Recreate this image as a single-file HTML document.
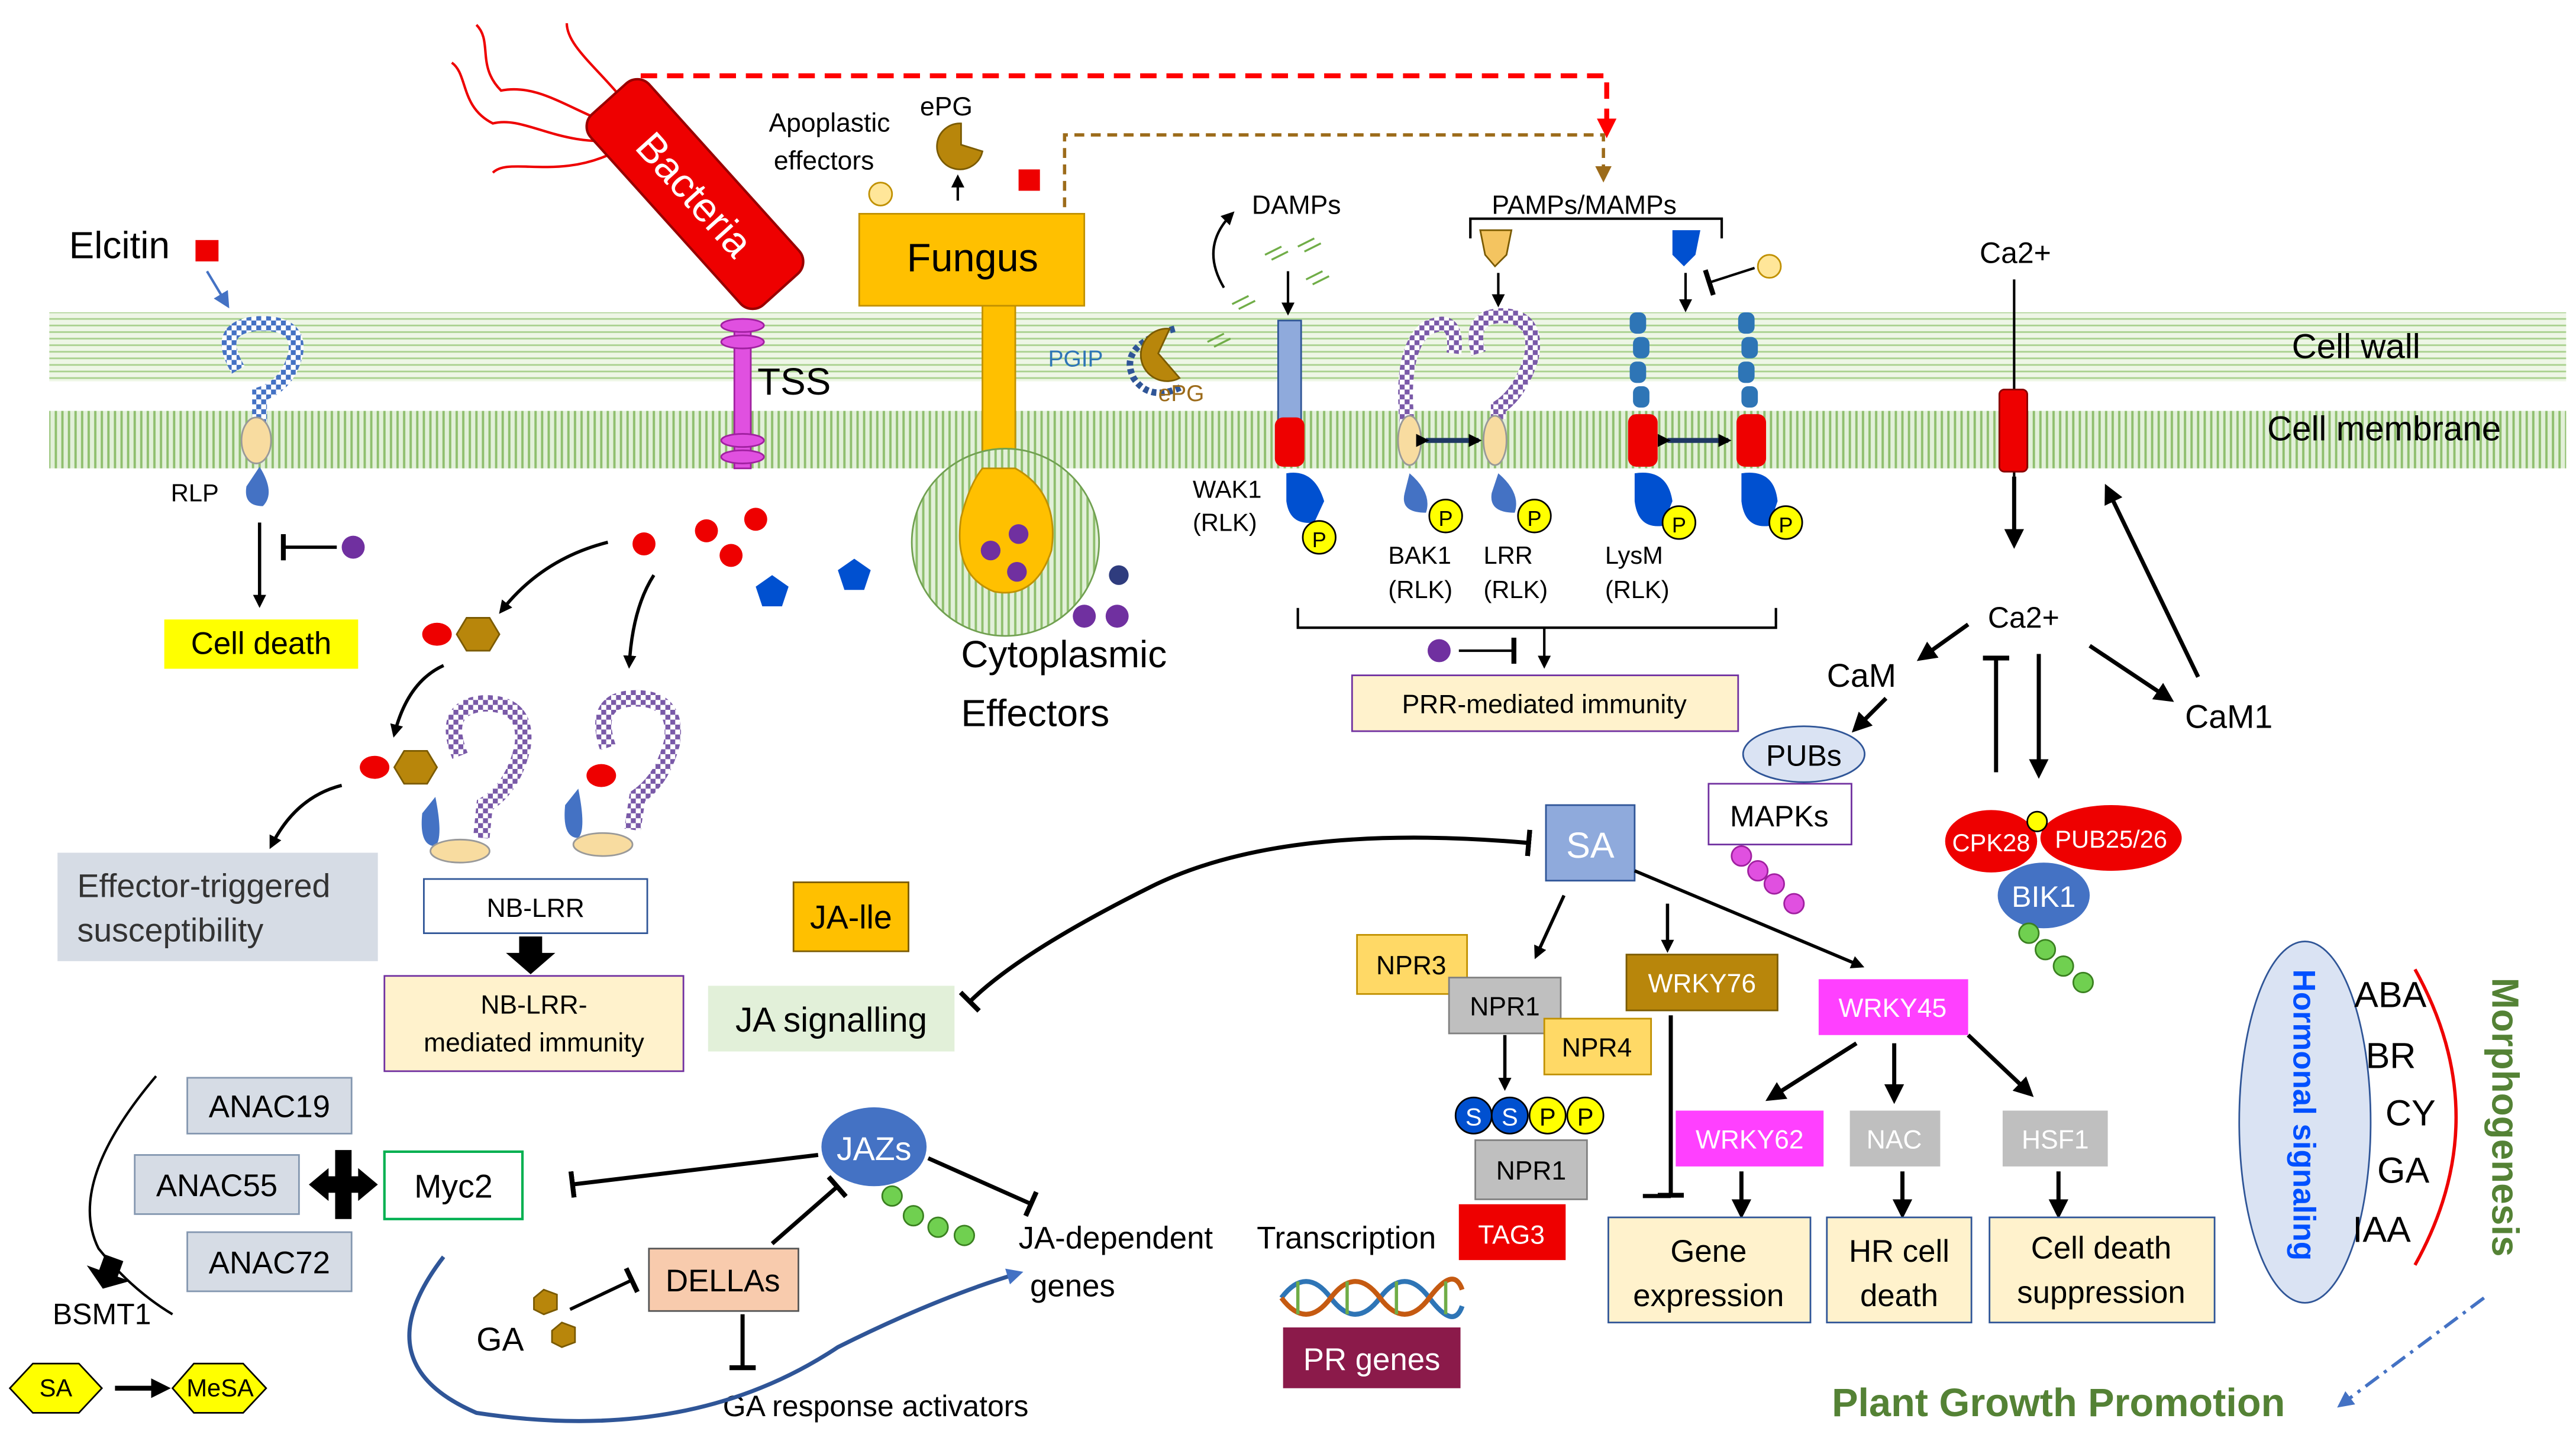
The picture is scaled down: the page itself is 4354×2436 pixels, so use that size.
<!DOCTYPE html>
<html><head><meta charset="utf-8"><style>
html,body{margin:0;padding:0;background:#fff}
svg{display:block}
text{font-family:"Liberation Sans",sans-serif}
</style></head><body>
<svg width="4354" height="2436" viewBox="0 0 1568 877" xmlns="http://www.w3.org/2000/svg">
<defs>
<pattern id="hw" width="6" height="4" patternUnits="userSpaceOnUse"><rect width="6" height="4" fill="#eef6e6"/><line x1="0" y1="2" x2="6" y2="2" stroke="#a9d18e" stroke-width="1"/></pattern>
<pattern id="vm" width="4" height="6" patternUnits="userSpaceOnUse"><rect width="4" height="6" fill="#e2f0d9"/><line x1="2" y1="0" x2="2" y2="6" stroke="#8fbf6e" stroke-width="1.4"/></pattern>
<pattern id="chk" width="6" height="6" patternUnits="userSpaceOnUse"><rect width="6" height="6" fill="#fff"/><rect width="3" height="3" fill="#7a5aa8"/><rect x="3" y="3" width="3" height="3" fill="#7a5aa8"/></pattern>
<pattern id="chkb" width="6" height="6" patternUnits="userSpaceOnUse"><rect width="6" height="6" fill="#fff"/><rect width="3" height="3" fill="#4472c4"/><rect x="3" y="3" width="3" height="3" fill="#4472c4"/></pattern>
<marker id="a" markerWidth="8" markerHeight="8" refX="6" refY="4" orient="auto" markerUnits="userSpaceOnUse"><path d="M0,0 L8,4 L0,8 z" fill="#000"/></marker>
<marker id="ab" markerWidth="10" markerHeight="10" refX="7" refY="5" orient="auto" markerUnits="userSpaceOnUse"><path d="M0,0 L10,5 L0,10 z" fill="#4472c4"/></marker>
<marker id="ar" markerWidth="12" markerHeight="12" refX="8" refY="6" orient="auto" markerUnits="userSpaceOnUse"><path d="M0,0 L12,6 L0,12 z" fill="#f00"/></marker>
<marker id="abr" markerWidth="10" markerHeight="10" refX="7" refY="5" orient="auto" markerUnits="userSpaceOnUse"><path d="M0,0 L10,5 L0,10 z" fill="#9c6b1a"/></marker>
<marker id="t" markerWidth="4" markerHeight="16" refX="2" refY="8" orient="auto" markerUnits="userSpaceOnUse"><rect width="3" height="16" fill="#000"/></marker>
<marker id="aw" markerWidth="12" markerHeight="12" refX="8" refY="6" orient="auto" markerUnits="userSpaceOnUse"><path d="M0,0 L12,6 L0,12 z" fill="#000"/></marker>
</defs>

<!-- membranes -->
<rect x="30" y="190" width="1532" height="42" fill="url(#hw)"/>
<rect x="30" y="250" width="1532" height="35" fill="url(#vm)"/>
<text x="1395" y="218" font-size="21">Cell wall</text>
<text x="1380" y="268" font-size="21">Cell membrane</text>

<!-- dashed lines -->
<polyline points="390,78 390,46 978,46 978,80" fill="none" stroke="#f00" stroke-width="3" stroke-dasharray="10,6" marker-end="url(#ar)"/>
<polyline points="648,126 648,82 976,82 976,108" fill="none" stroke="#9c6b1a" stroke-width="2" stroke-dasharray="6,4" marker-end="url(#abr)"/>

<!-- bacteria -->
<g stroke="#e00" stroke-width="1.5" fill="none">
<path d="M385,80 C350,70 330,50 305,55 C290,40 300,25 290,15"/>
<path d="M380,85 C340,90 320,70 300,75 C280,65 285,45 275,38"/>
<path d="M375,92 C340,110 310,95 300,105"/>
<path d="M390,75 C370,45 345,30 345,14"/>
</g>
<g transform="translate(423,118) rotate(48)">
<rect x="-78" y="-24" width="156" height="48" rx="10" fill="#e00" stroke="#900" stroke-width="1.5"/>
<text x="0" y="9" font-size="25" fill="#fff" text-anchor="middle">Bacteria</text>
</g>
<!-- TSS -->
<rect x="447" y="195" width="10" height="90" fill="#e050e0" stroke="#a020a0"/>
<ellipse cx="452" cy="198" rx="13" ry="4" fill="#e050e0" stroke="#a020a0"/>
<ellipse cx="452" cy="208" rx="13" ry="4" fill="#e050e0" stroke="#a020a0"/>
<ellipse cx="452" cy="268" rx="13" ry="4" fill="#e050e0" stroke="#a020a0"/>
<ellipse cx="452" cy="278" rx="13" ry="4" fill="#e050e0" stroke="#a020a0"/>
<text x="461" y="240" font-size="23">TSS</text>

<!-- Fungus -->
<rect x="598" y="185" width="20" height="110" fill="#ffc000" stroke="#c09000"/>
<circle cx="612" cy="330" r="57" fill="url(#vm)" stroke="#70a050"/>
<path d="M598,285 L618,285 Q645,300 640,335 Q630,365 605,360 Q580,350 585,315 Q590,295 598,285z" fill="#ffc000" stroke="#c09000"/>
<circle cx="603" cy="335" r="6" fill="#7030a0"/><circle cx="620" cy="325" r="6" fill="#7030a0"/><circle cx="619" cy="348" r="6" fill="#7030a0"/>
<rect x="523" y="130" width="137" height="56" fill="#ffc000" stroke="#c09000"/>
<text x="592" y="165" font-size="24" text-anchor="middle">Fungus</text>
<text x="468" y="80" font-size="16">Apoplastic</text>
<text x="471" y="103" font-size="16">effectors</text>
<text x="560" y="70" font-size="16">ePG</text>
<path d="M585,75 A14,14 0 1,0 598,92 L585,88 z" fill="#b8860b" stroke="#7a5a00"/>
<line x1="583" y1="122" x2="583" y2="108" stroke="#000" stroke-width="1.5" marker-end="url(#a)"/>
<circle cx="536" cy="118" r="7" fill="#ffe699" stroke="#c09000"/>
<rect x="620" y="103" width="13" height="13" fill="#e00"/>
<circle cx="681" cy="350" r="6" fill="#2f3c7e"/><circle cx="660" cy="375" r="7" fill="#7030a0"/><circle cx="680" cy="375" r="7" fill="#7030a0"/>
<text x="585" y="406" font-size="23">Cytoplasmic</text>
<text x="585" y="442" font-size="23">Effectors</text>

<!-- PGIP -->
<path d="M715,200 Q680,210 690,230 Q700,245 720,235" fill="none" stroke="#2f5597" stroke-width="4" stroke-dasharray="3,2"/>
<path d="M712,200 A16,16 0 1,0 718,230 L705,215 z" fill="#b8860b" stroke="#7a5a00"/>
<text x="638" y="223" font-size="14" fill="#2e75b6">PGIP</text>
<text x="705" y="244" font-size="14" fill="#9c6b1a">ePG</text>
<g fill="none" stroke="#70ad47" stroke-width="1.2">
<path d="M735,208 l10,-5 m-6,8 l10,-5"/><path d="M750,185 l10,-5 m-6,8 l10,-5"/><path d="M770,155 l10,-5 m-6,8 l10,-5"/><path d="M790,150 l10,-5 m-6,8 l10,-5"/><path d="M795,170 l10,-5 m-6,8 l10,-5"/>
</g>
<path d="M745,175 Q730,150 750,130" fill="none" stroke="#000" stroke-width="1.5" marker-end="url(#a)"/>
<text x="762" y="130" font-size="16">DAMPs</text>

<!-- Elcitin / RLP -->
<text x="42" y="157" font-size="23">Elcitin</text>
<rect x="119" y="146" width="14" height="13" fill="#e00"/>
<line x1="126" y1="165" x2="138" y2="185" stroke="#4472c4" stroke-width="1.5" marker-end="url(#ab)"/>
<path d="M145,225 Q130,200 155,197 Q183,195 180,215 Q175,235 158,240 L158,258" fill="none" stroke="url(#chkb)" stroke-width="9"/>
<ellipse cx="156" cy="268" rx="9" ry="14" fill="#f8dca0" stroke="#999"/>
<path d="M158,284 Q168,300 160,308 Q148,308 150,296z" fill="#4472c4"/>
<text x="104" y="305" font-size="15">RLP</text>
<line x1="158" y1="318" x2="158" y2="368" stroke="#000" stroke-width="2" marker-end="url(#a)"/>
<line x1="205" y1="333" x2="172" y2="333" stroke="#000" stroke-width="2" marker-end="url(#t)"/>
<circle cx="215" cy="333" r="7" fill="#7030a0"/>
<rect x="100" y="377" width="118" height="30" fill="#ffff00"/>
<text x="159" y="398" font-size="19" text-anchor="middle">Cell death</text>

<!-- effectors dots -->
<g fill="#e00"><circle cx="392" cy="331" r="7"/><circle cx="430" cy="323" r="7"/><circle cx="460" cy="316" r="7"/><circle cx="445" cy="338" r="7"/></g>
<polygon points="470,350 480,357 476,369 464,369 460,357" fill="#0050d0"/>
<polygon points="520,340 530,347 526,359 514,359 510,347" fill="#0050d0"/>
<path d="M370,330 Q330,340 305,372" fill="none" stroke="#000" stroke-width="2" marker-end="url(#a)"/>
<path d="M398,350 Q385,370 383,405" fill="none" stroke="#000" stroke-width="2" marker-end="url(#a)"/>
<ellipse cx="266" cy="386" rx="9" ry="7" fill="#e00"/>
<polygon points="278,386 284,376 298,376 304,386 298,396 284,396" fill="#b8860b" stroke="#7a5a00"/>
<path d="M270,405 Q248,415 240,447" fill="none" stroke="#000" stroke-width="2" marker-end="url(#a)"/>
<ellipse cx="228" cy="467" rx="9" ry="7" fill="#e00"/>
<polygon points="240,467 246,457 260,457 266,467 260,477 246,477" fill="#b8860b" stroke="#7a5a00"/>
<path d="M208,478 Q180,485 165,515" fill="none" stroke="#000" stroke-width="2" marker-end="url(#a)"/>
<rect x="35" y="519" width="195" height="66" fill="#d6dce5"/>
<text x="47" y="546" font-size="20" fill="#333">Effector-triggered</text>
<text x="47" y="573" font-size="20" fill="#333">susceptibility</text>

<!-- NB-LRR -->
<path d="M280,460 Q268,430 295,428 Q322,428 318,455 Q312,480 295,490 L293,510" fill="none" stroke="url(#chk)" stroke-width="10"/>
<path d="M265,485 Q270,510 265,515 Q255,515 257,495z" fill="#4472c4"/>
<ellipse cx="280" cy="518" rx="18" ry="7" fill="#f8dca0" stroke="#999"/>
<path d="M370,455 Q360,425 387,425 Q413,425 409,452 Q403,475 388,485 L385,505" fill="none" stroke="url(#chk)" stroke-width="10"/>
<ellipse cx="366" cy="472" rx="9" ry="7" fill="#e00"/>
<path d="M352,480 Q357,505 352,510 Q342,510 344,490z" fill="#4472c4"/>
<ellipse cx="367" cy="514" rx="18" ry="7" fill="#f8dca0" stroke="#999"/>
<rect x="258" y="535" width="136" height="33" fill="#fff" stroke="#2f5597"/>
<text x="326" y="558" font-size="16" text-anchor="middle">NB-LRR</text>
<polygon points="316,570 330,570 330,580 338,580 323,593 308,580 316,580" fill="#000"/>
<rect x="234" y="594" width="182" height="58" fill="#fff2cc" stroke="#7030a0"/>
<text x="325" y="617" font-size="16" text-anchor="middle">NB-LRR-</text>
<text x="325" y="640" font-size="16" text-anchor="middle">mediated immunity</text>

<!-- WAK1 -->
<rect x="778" y="195" width="14" height="62" fill="#8faadc" stroke="#2f5597"/>
<rect x="776" y="254" width="18" height="30" rx="5" fill="#e00"/>
<path d="M783,288 Q800,285 806,305 L800,318 Q785,320 783,305z" fill="#0050d0"/>
<circle cx="803" cy="327" r="10" fill="#ffff00" stroke="#000"/><text x="803" y="333" font-size="13" text-anchor="middle">P</text>
<text x="726" y="303" font-size="15">WAK1</text><text x="726" y="323" font-size="15">(RLK)</text>
<line x1="784" y1="165" x2="784" y2="190" stroke="#000" stroke-width="1.5" marker-end="url(#a)"/>

<!-- PAMPs -->
<text x="908" y="130" font-size="16">PAMPs/MAMPs</text>
<polyline points="895,145 895,133 1048,133 1048,145" fill="none" stroke="#000" stroke-width="1.5"/>
<polygon points="901,140 920,140 917,155 910,162 904,155" fill="#f4c460" stroke="#7a5a00"/>
<polygon points="1018,140 1035,140 1032,155 1025,162 1018,155" fill="#0050d0"/>
<line x1="912" y1="166" x2="912" y2="185" stroke="#000" stroke-width="1.5" marker-end="url(#a)"/>
<line x1="1026" y1="166" x2="1026" y2="188" stroke="#000" stroke-width="1.5" marker-end="url(#a)"/>
<line x1="1068" y1="163" x2="1040" y2="172" stroke="#000" stroke-width="1.5" marker-end="url(#t)"/>
<circle cx="1077" cy="162" r="7" fill="#ffe699" stroke="#c09000"/>

<!-- BAK1/LRR -->
<path d="M858,270 Q850,215 868,200 Q888,190 885,215" fill="none" stroke="url(#chk)" stroke-width="9"/>
<ellipse cx="858" cy="268" rx="7" ry="15" fill="#f8dca0" stroke="#999"/>
<path d="M858,288 Q872,300 868,312 Q852,312 855,300z" fill="#4472c4"/>
<circle cx="880" cy="314" r="10" fill="#ffff00" stroke="#000"/><text x="880" y="320" font-size="13" text-anchor="middle">P</text>
<path d="M900,215 Q893,192 915,192 Q937,193 932,218 Q925,240 912,248 L912,255" fill="none" stroke="url(#chk)" stroke-width="9"/>
<ellipse cx="910" cy="268" rx="7" ry="15" fill="#f8dca0" stroke="#999"/>
<path d="M912,288 Q926,300 922,312 Q906,312 908,300z" fill="#4472c4"/>
<circle cx="934" cy="314" r="10" fill="#ffff00" stroke="#000"/><text x="934" y="320" font-size="13" text-anchor="middle">P</text>
<line x1="868" y1="268" x2="900" y2="268" stroke="#1f3864" stroke-width="3" marker-end="url(#a)" marker-start="url(#a)"/>
<text x="845" y="343" font-size="15">BAK1</text><text x="845" y="364" font-size="15">(RLK)</text>
<text x="903" y="343" font-size="15">LRR</text><text x="903" y="364" font-size="15">(RLK)</text>

<!-- LysM -->
<g fill="#2e75b6">
<rect x="992" y="190" width="10" height="13" rx="4"/><rect x="994" y="205" width="10" height="13" rx="4"/><rect x="992" y="220" width="10" height="13" rx="4"/><rect x="994" y="235" width="10" height="13" rx="4"/>
<rect x="1058" y="190" width="10" height="13" rx="4"/><rect x="1060" y="205" width="10" height="13" rx="4"/><rect x="1058" y="220" width="10" height="13" rx="4"/><rect x="1060" y="235" width="10" height="13" rx="4"/>
</g>
<rect x="991" y="252" width="18" height="32" rx="5" fill="#e00"/>
<rect x="1057" y="252" width="18" height="32" rx="5" fill="#e00"/>
<path d="M995,288 Q1015,285 1018,305 L1012,320 Q997,322 995,305z" fill="#0050d0"/>
<path d="M1060,288 Q1080,285 1082,305 L1077,320 Q1062,322 1060,305z" fill="#0050d0"/>
<circle cx="1022" cy="318" r="10" fill="#ffff00" stroke="#000"/><text x="1022" y="324" font-size="13" text-anchor="middle">P</text>
<circle cx="1087" cy="318" r="10" fill="#ffff00" stroke="#000"/><text x="1087" y="324" font-size="13" text-anchor="middle">P</text>
<line x1="1015" y1="268" x2="1052" y2="268" stroke="#1f3864" stroke-width="3" marker-end="url(#a)" marker-start="url(#a)"/>
<text x="977" y="343" font-size="15">LysM</text><text x="977" y="364" font-size="15">(RLK)</text>

<polyline points="790,370 790,382 1081,382 1081,370" fill="none" stroke="#000" stroke-width="1.5"/>
<line x1="940" y1="382" x2="940" y2="405" stroke="#000" stroke-width="1.5" marker-end="url(#a)"/>
<circle cx="876" cy="396" r="7" fill="#7030a0"/>
<line x1="888" y1="396" x2="922" y2="396" stroke="#000" stroke-width="1.5" marker-end="url(#t)"/>
<rect x="823" y="411" width="235" height="34" fill="#fff2cc" stroke="#7030a0"/>
<text x="940" y="434" font-size="16" text-anchor="middle">PRR-mediated immunity</text>

<!-- Ca -->
<text x="1205" y="160" font-size="18">Ca2+</text>
<line x1="1226" y1="170" x2="1226" y2="290" stroke="#000" stroke-width="1.5"/>
<rect x="1217" y="237" width="17" height="50" rx="3" fill="#e00" stroke="#800"/>
<line x1="1226" y1="290" x2="1226" y2="330" stroke="#000" stroke-width="2.5" marker-end="url(#aw)"/>
<text x="1210" y="382" font-size="18">Ca2+</text>
<line x1="1198" y1="380" x2="1170" y2="400" stroke="#000" stroke-width="2.5" marker-end="url(#aw)"/>
<line x1="1272" y1="393" x2="1320" y2="425" stroke="#000" stroke-width="2.5" marker-end="url(#aw)"/>
<line x1="1338" y1="412" x2="1283" y2="298" stroke="#000" stroke-width="2.5" marker-end="url(#aw)"/>
<line x1="1215" y1="470" x2="1215" y2="400" stroke="#000" stroke-width="2.5" marker-end="url(#t)"/>
<line x1="1241" y1="398" x2="1241" y2="470" stroke="#000" stroke-width="2.5" marker-end="url(#aw)"/>
<text x="1112" y="418" font-size="20">CaM</text>
<text x="1330" y="443" font-size="20">CaM1</text>
<line x1="1148" y1="425" x2="1130" y2="443" stroke="#000" stroke-width="2.5" marker-end="url(#aw)"/>
<ellipse cx="1098" cy="459" rx="37" ry="17" fill="#dae3f3" stroke="#2f5597"/>
<text x="1098" y="466" font-size="18" text-anchor="middle">PUBs</text>
<rect x="1040" y="477" width="87" height="37" fill="#fff" stroke="#7030a0"/>
<text x="1083" y="503" font-size="18" text-anchor="middle">MAPKs</text>
<g fill="#e050e0" stroke="#a020a0"><circle cx="1060" cy="521" r="6"/><circle cx="1070" cy="530" r="6"/><circle cx="1080" cy="538" r="6"/><circle cx="1092" cy="550" r="6"/></g>
<ellipse cx="1212" cy="512" rx="28" ry="19" fill="#e00"/>
<text x="1212" y="518" font-size="15" fill="#fff" text-anchor="middle">CPK28</text>
<ellipse cx="1285" cy="510" rx="43" ry="20" fill="#e00"/>
<text x="1285" y="516" font-size="15" fill="#fff" text-anchor="middle">PUB25/26</text>
<circle cx="1240" cy="500" r="6" fill="#ffff00" stroke="#000"/>
<ellipse cx="1244" cy="545" rx="28" ry="20" fill="#4472c4"/>
<text x="1244" y="552" font-size="18" fill="#fff" text-anchor="middle">BIK1</text>
<g fill="#70d050" stroke="#3a8020"><circle cx="1235" cy="568" r="6"/><circle cx="1245" cy="578" r="6"/><circle cx="1256" cy="588" r="6"/><circle cx="1268" cy="598" r="6"/></g>

<!-- SA network -->
<rect x="941" y="490" width="54" height="46" fill="#8faadc" stroke="#2f5597"/>
<text x="968" y="522" font-size="22" fill="#fff" text-anchor="middle">SA</text>
<path d="M930,513 Q780,500 700,540 Q620,580 590,610" fill="none" stroke="#000" stroke-width="2.5" marker-start="url(#t)" marker-end="url(#t)"/>
<rect x="483" y="537" width="70" height="42" fill="#ffc000" stroke="#7a5a00"/>
<text x="518" y="565" font-size="20" text-anchor="middle">JA-lle</text>
<rect x="431" y="600" width="150" height="40" fill="#e2f0d9"/>
<text x="506" y="628" font-size="21" text-anchor="middle">JA signalling</text>
<line x1="952" y1="545" x2="935" y2="582" stroke="#000" stroke-width="2" marker-end="url(#a)"/>
<line x1="1015" y1="550" x2="1015" y2="578" stroke="#000" stroke-width="2" marker-end="url(#a)"/>
<line x1="995" y1="530" x2="1133" y2="588" stroke="#000" stroke-width="2" marker-end="url(#a)"/>
<rect x="826" y="569" width="67" height="36" fill="#ffd966" stroke="#c09000"/>
<text x="859" y="593" font-size="16" text-anchor="middle">NPR3</text>
<rect x="882" y="595" width="68" height="34" fill="#bfbfbf" stroke="#808080"/>
<text x="916" y="618" font-size="16" text-anchor="middle">NPR1</text>
<rect x="940" y="620" width="65" height="34" fill="#ffd966" stroke="#c09000"/>
<text x="972" y="643" font-size="16" text-anchor="middle">NPR4</text>
<line x1="916" y1="630" x2="916" y2="662" stroke="#000" stroke-width="2" marker-end="url(#a)"/>
<g font-size="15" text-anchor="middle">
<circle cx="897" cy="679" r="11" fill="#0050d0" stroke="#000"/><text x="897" y="685" fill="#fff">S</text>
<circle cx="919" cy="679" r="11" fill="#0050d0" stroke="#000"/><text x="919" y="685" fill="#fff">S</text>
<circle cx="942" cy="679" r="11" fill="#ffff00" stroke="#000"/><text x="942" y="685">P</text>
<circle cx="965" cy="679" r="11" fill="#ffff00" stroke="#000"/><text x="965" y="685">P</text>
</g>
<rect x="898" y="694" width="68" height="36" fill="#bfbfbf" stroke="#808080"/>
<text x="932" y="718" font-size="16" text-anchor="middle">NPR1</text>
<rect x="888" y="733" width="65" height="34" fill="#e00"/>
<text x="920" y="757" font-size="16" fill="#fff" text-anchor="middle">TAG3</text>
<text x="765" y="760" font-size="19">Transcription</text>
<g fill="none" stroke-width="3">
<path d="M780,790 Q795,770 810,790 Q825,810 840,790 Q855,770 870,790 Q885,810 890,795" stroke="#2e75b6"/>
<path d="M780,790 Q795,810 810,790 Q825,770 840,790 Q855,810 870,790 Q885,770 890,785" stroke="#c55a11"/>
</g>
<g stroke="#70ad47" stroke-width="2"><line x1="790" y1="780" x2="790" y2="800"/><line x1="820" y1="780" x2="820" y2="800"/><line x1="850" y1="780" x2="850" y2="800"/><line x1="880" y1="780" x2="880" y2="800"/></g>
<rect x="781" y="808" width="108" height="37" fill="#8b1a4a"/>
<text x="835" y="834" font-size="19" fill="#fff" text-anchor="middle">PR genes</text>

<rect x="990" y="581" width="92" height="34" fill="#b8860b" stroke="#7a5a00"/>
<text x="1036" y="604" font-size="16" fill="#fff" text-anchor="middle">WRKY76</text>
<line x1="1017" y1="618" x2="1017" y2="728" stroke="#000" stroke-width="2.5" marker-end="url(#t)"/>
<line x1="1017" y1="728" x2="1000" y2="728" stroke="#000" stroke-width="2.5"/>
<rect x="1107" y="596" width="91" height="34" fill="#ff40ff"/>
<text x="1152" y="619" font-size="16" fill="#fff" text-anchor="middle">WRKY45</text>
<line x1="1130" y1="635" x2="1078" y2="668" stroke="#000" stroke-width="2.5" marker-end="url(#aw)"/>
<line x1="1153" y1="635" x2="1153" y2="668" stroke="#000" stroke-width="2.5" marker-end="url(#aw)"/>
<line x1="1198" y1="630" x2="1235" y2="665" stroke="#000" stroke-width="2.5" marker-end="url(#aw)"/>
<rect x="1020" y="676" width="90" height="34" fill="#ff40ff"/>
<text x="1065" y="699" font-size="16" fill="#fff" text-anchor="middle">WRKY62</text>
<rect x="1126" y="676" width="55" height="34" fill="#bfbfbf"/>
<text x="1153" y="699" font-size="16" fill="#fff" text-anchor="middle">NAC</text>
<rect x="1219" y="676" width="64" height="34" fill="#bfbfbf"/>
<text x="1251" y="699" font-size="16" fill="#fff" text-anchor="middle">HSF1</text>
<line x1="1060" y1="713" x2="1060" y2="738" stroke="#000" stroke-width="2.5" marker-end="url(#aw)"/>
<line x1="1158" y1="713" x2="1158" y2="738" stroke="#000" stroke-width="2.5" marker-end="url(#aw)"/>
<line x1="1253" y1="713" x2="1253" y2="738" stroke="#000" stroke-width="2.5" marker-end="url(#aw)"/>
<rect x="979" y="741" width="123" height="64" fill="#fff2cc" stroke="#2f5597"/>
<text x="1040" y="768" font-size="19" text-anchor="middle">Gene</text><text x="1040" y="795" font-size="19" text-anchor="middle">expression</text>
<rect x="1112" y="741" width="88" height="64" fill="#fff2cc" stroke="#2f5597"/>
<text x="1156" y="768" font-size="19" text-anchor="middle">HR cell</text><text x="1156" y="795" font-size="19" text-anchor="middle">death</text>
<rect x="1211" y="741" width="137" height="64" fill="#fff2cc" stroke="#2f5597"/>
<text x="1279" y="766" font-size="19" text-anchor="middle">Cell death</text><text x="1279" y="793" font-size="19" text-anchor="middle">suppression</text>

<!-- hormonal -->
<ellipse cx="1403" cy="683" rx="40" ry="110" fill="#dae3f3" stroke="#2f5597"/>
<text transform="translate(1396,590) rotate(90)" font-size="19" font-weight="bold" fill="#0050ff">Hormonal signaling</text>
<g font-size="22"><text x="1433" y="613">ABA</text><text x="1440" y="650">BR</text><text x="1452" y="685">CY</text><text x="1447" y="720">GA</text><text x="1432" y="756">IAA</text></g>
<path d="M1470,590 Q1520,680 1470,770" fill="none" stroke="#e00" stroke-width="2"/>
<text transform="translate(1517,595) rotate(90)" font-size="23" font-weight="bold" fill="#548235">Morphogenesis</text>
<line x1="1512" y1="790" x2="1425" y2="855" stroke="#4472c4" stroke-width="2" stroke-dasharray="10,4,2,4" marker-end="url(#ab)"/>
<text x="1115" y="862" font-size="24" font-weight="bold" fill="#548235">Plant Growth Promotion</text>

<!-- JA bottom left -->
<path d="M95,655 Q40,720 60,760 Q80,785 105,800" fill="none" stroke="#000" stroke-width="1.5"/>
<rect x="114" y="656" width="100" height="34" fill="#d6dce5" stroke="#8497b0"/>
<text x="164" y="680" font-size="19" text-anchor="middle">ANAC19</text>
<rect x="82" y="703" width="100" height="36" fill="#d6dce5" stroke="#8497b0"/>
<text x="132" y="728" font-size="19" text-anchor="middle">ANAC55</text>
<rect x="114" y="750" width="100" height="36" fill="#d6dce5" stroke="#8497b0"/>
<text x="164" y="775" font-size="19" text-anchor="middle">ANAC72</text>
<g fill="#000"><polygon points="188,721 200,711 200,716 218,716 218,711 230,721 218,731 218,726 200,726 200,731"/><rect x="204" y="700" width="10" height="42"/></g>
<rect x="234" y="701" width="84" height="41" fill="#fff" stroke="#00b050" stroke-width="1.5"/>
<text x="276" y="729" font-size="20" text-anchor="middle">Myc2</text>
<polygon points="60,765 72,765 72,775 80,775 66,785 52,775 60,775" fill="#000" transform="rotate(20,66,775)"/>
<text x="32" y="806" font-size="18">BSMT1</text>
<polygon points="20,830 48,830 62,845 48,860 20,860 6,845" fill="#ffff00" stroke="#000"/>
<text x="34" y="850" font-size="15" text-anchor="middle">SA</text>
<line x1="70" y1="845" x2="100" y2="845" stroke="#000" stroke-width="3" marker-end="url(#aw)"/>
<polygon points="118,830 148,830 162,845 148,860 118,860 105,845" fill="#ffff00" stroke="#000"/>
<text x="134" y="850" font-size="15" text-anchor="middle">MeSA</text>

<ellipse cx="532" cy="698" rx="32" ry="24" fill="#4472c4"/>
<text x="532" y="706" font-size="20" fill="#fff" text-anchor="middle">JAZs</text>
<g fill="#70d050" stroke="#3a8020"><circle cx="543" cy="728" r="6"/><circle cx="556" cy="740" r="6"/><circle cx="571" cy="747" r="6"/><circle cx="587" cy="752" r="6"/></g>
<line x1="498" y1="703" x2="348" y2="721" stroke="#000" stroke-width="2.5" marker-end="url(#t)"/>
<line x1="565" y1="705" x2="628" y2="733" stroke="#000" stroke-width="2.5" marker-end="url(#t)"/>
<text x="620" y="760" font-size="19">JA-dependent</text>
<text x="627" y="789" font-size="19">genes</text>
<rect x="395" y="760" width="91" height="38" fill="#f8cbad" stroke="#555"/>
<text x="440" y="786" font-size="19" text-anchor="middle">DELLAs</text>
<line x1="470" y1="757" x2="510" y2="722" stroke="#000" stroke-width="2.5" marker-end="url(#t)"/>
<line x1="452" y1="800" x2="452" y2="833" stroke="#000" stroke-width="2.5" marker-end="url(#t)"/>
<text x="440" y="862" font-size="18">GA response activators</text>
<polygon points="325,790 331,785 339,788 339,797 331,800 325,797" fill="#b8860b" stroke="#7a5a00"/>
<polygon points="336,810 342,805 350,808 350,817 342,820 336,817" fill="#b8860b" stroke="#7a5a00"/>
<text x="290" y="822" font-size="20">GA</text>
<line x1="347" y1="797" x2="385" y2="779" stroke="#000" stroke-width="2" marker-end="url(#t)"/>
<path d="M270,765 Q220,830 290,860 Q420,880 510,820 Q570,790 620,775" fill="none" stroke="#2f5597" stroke-width="2.5" marker-end="url(#ab)"/>
</svg>
</body></html>
